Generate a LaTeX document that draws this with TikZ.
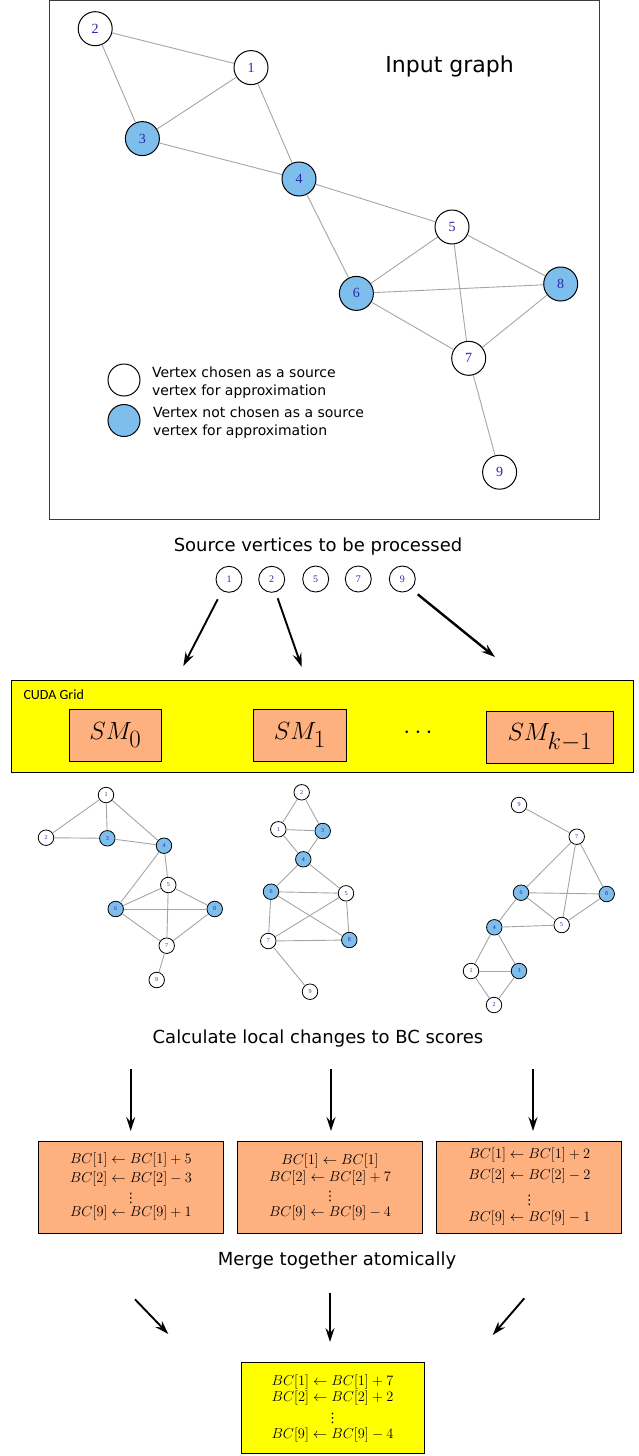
\documentclass[tikz,border=0pt]{standalone}
\usepackage[no-math]{fontspec}
\setmainfont{DejaVu Sans}
\newfontfamily\carlito{Carlito}
\newfontfamily\timesf{Liberation Serif}
\usetikzlibrary{arrows.meta}
\definecolor{nblue}{RGB}{125,190,236}
\definecolor{lblue}{RGB}{40,40,170}
\definecolor{salmon}{RGB}{255,176,127}
\definecolor{ylw}{RGB}{255,255,0}
\definecolor{edgegray}{RGB}{165,165,165}
\definecolor{framegray}{RGB}{60,60,60}
\tikzset{
 bigv/.style={circle,draw=black,line width=1pt,fill=white,minimum size=34pt,inner sep=0pt,text=lblue,font=\timesf\fontsize{14}{14}\selectfont},
 bigb/.style={bigv,fill=nblue},
 legv/.style={bigv,minimum size=32pt},
 legb/.style={legv,fill=nblue},
 midv/.style={circle,draw=black,line width=0.9pt,fill=white,minimum size=26pt,inner sep=0pt,text=lblue,font=\timesf\fontsize{10}{10}\selectfont},
 smv/.style={circle,draw=black,line width=0.8pt,fill=white,minimum size=15.5pt,inner sep=0pt,text=lblue,font=\timesf\fontsize{6}{6}\selectfont},
 smb/.style={smv,fill=nblue},
 gedge/.style={draw=edgegray,line width=0.9pt},
 arr/.style={-{Stealth[length=14pt,width=9pt,inset=5pt]},line width=1.9pt},
 lbl/.style={font=\fontsize{18}{21}\selectfont},
 legtxt/.style={anchor=west,align=left,font=\fontsize{14}{17.5}\selectfont},
 smbox/.style={draw=black,line width=0.9pt,fill=salmon,minimum height=52pt,inner sep=0pt,font=\fontsize{36}{36}\selectfont},
 bcbox/.style={draw=black,line width=1pt,fill=salmon,minimum width=185pt,minimum height=92pt,inner sep=0pt},
 bcl/.style={anchor=base,inner sep=0pt,font=\fontsize{14}{14}\selectfont},
 bcd/.style={anchor=center,inner sep=0pt,font=\fontsize{13}{13}\selectfont},
}
\begin{document}
\begin{tikzpicture}[x=1pt,y=-1pt]
\useasboundingbox (0,0) rectangle (638,1456);
% ---------- input graph frame
\draw[framegray,line width=1.3pt] (49.5,0.8) rectangle (599.5,519.5);
\node[font=\fontsize{22}{22}\selectfont] (title) at (449.6,66) {Input graph};
% top graph
\node[bigv] (t1) at (251,67.6) {1};
\node[bigv] (t2) at (95.2,28.7) {2};
\node[bigb] (t3) at (142.4,138.6) {3};
\node[bigb] (t4) at (299,179) {4};
\node[bigv] (t5) at (452,227) {5};
\node[bigb] (t6) at (356.4,293.4) {6};
\node[bigv] (t7) at (468.7,358.3) {7};
\node[bigb] (t8) at (560.7,284) {8};
\node[bigv] (t9) at (499.6,472.2) {9};
% legend
\node[legv] (leg1) at (124,380) {};
\node[legb] (leg2) at (124,420.5) {};
\node[legtxt] (legt1) at (148.5,382.5) {Vertex chosen as a source\\vertex for approximation};
\node[legtxt] (legt2) at (149.5,422.8) {Vertex not chosen as a source\\vertex for approximation};
% ---------- source vertices
\node[lbl] (srct) at (318,547) {Source vertices to be processed};
\node[midv] (s1) at (229,579.3) {1};
\node[midv] (s2) at (271.7,579.3) {2};
\node[midv] (s5) at (315.7,579) {5};
\node[midv] (s7) at (358.3,579) {7};
\node[midv] (s9) at (402.3,579) {9};
\coordinate (p1a) at (217.7,599.3); \coordinate (p1b) at (183.3,666);
\coordinate (p2a) at (277.7,598.3); \coordinate (p2b) at (301.7,667);
\coordinate (p3a) at (417.7,594.3); \coordinate (p3b) at (495,657);
\draw[arr] (p1a) -- (p1b);
\draw[arr] (p2a) -- (p2b);
\draw[arr,line width=2.4pt] (p3a) -- (p3b);
% ---------- CUDA grid
\node[draw=black,line width=0.9pt,fill=ylw,minimum width=622pt,minimum height=92pt,inner sep=0pt] (grid) at (322,726) {};
\node[anchor=west,font=\carlito\fontsize{14}{14}\selectfont] (gridt) at (20,695) {CUDA Grid};
\node[smbox,minimum width=92.3pt] (sm0) at (115.4,735) {$SM_0$};
\node[smbox,minimum width=92.7pt] (sm1) at (299.9,735) {$SM_1$};
\node[smbox,minimum width=127.3pt] (smk) at (549.9,737.5) {$SM_{k-1}$};
\node[font=\fontsize{32}{32}\selectfont] (dots) at (418,733) {$\cdots$};
% ---------- three local graphs
\node[smv] (a1) at (106,795) {1};
\node[smv] (a2) at (46,837.7) {2};
\node[smb] (a3) at (107.3,838.3) {3};
\node[smb] (a4) at (164,845.7) {4};
\node[smv] (a5) at (168.3,885) {5};
\node[smb] (a6) at (115.7,909) {6};
\node[smv] (a7) at (166.7,945.7) {7};
\node[smb] (a8) at (214.7,909) {8};
\node[smv] (a9) at (156.7,980) {9};
\node[smv] (b1) at (278.3,829.3) {1};
\node[smv] (b2) at (301.7,792.3) {2};
\node[smb] (b3) at (322.7,831) {3};
\node[smb] (b4) at (303.3,859.3) {4};
\node[smv] (b5) at (346,893.3) {5};
\node[smb] (b6) at (271,891.7) {6};
\node[smv] (b7) at (268.3,941) {7};
\node[smb] (b8) at (349.3,940) {8};
\node[smv] (b9) at (310,991.7) {9};
\node[smv] (c1) at (471,971) {1};
\node[smv] (c2) at (494,1005) {2};
\node[smb] (c3) at (519,971) {3};
\node[smb] (c4) at (494.3,927.3) {4};
\node[smv] (c5) at (561.7,925) {5};
\node[smb] (c6) at (521,892.7) {6};
\node[smv] (c7) at (576.7,836.7) {7};
\node[smb] (c8) at (606.7,894) {8};
\node[smv] (c9) at (519,805) {9};
\foreach \g in {t,a,b,c}{
  \foreach \u/\v in {1/2,2/3,1/3,1/4,3/4,4/5,4/6,5/6,5/8,5/7,6/8,6/7,8/7,7/9}{
    \draw[gedge] (\g\u) -- (\g\v);
  }
}
% ---------- local changes
\node[lbl] (calct) at (318,1039) {Calculate local changes to BC scores};
\coordinate (d1a) at (130.7,1069); \coordinate (d1b) at (130.7,1131);
\coordinate (d2a) at (331,1069); \coordinate (d2b) at (331,1131);
\coordinate (d3a) at (533,1069); \coordinate (d3b) at (533,1131);
\draw[arr] (d1a) -- (d1b);
\draw[arr] (d2a) -- (d2b);
\draw[arr] (d3a) -- (d3b);
\node[bcbox] (bc1) at (130.9,1187) {};
\node[bcl] (bc1l1) at (130.9,1163.5) {$BC[1]\leftarrow BC[1]+5$};
\node[bcl] (bc1l2) at (130.9,1182.8) {$BC[2]\leftarrow BC[2]-3$};
\node[bcd] (bc1d) at (130.9,1198) {⋮};
\node[bcl] (bc1l9) at (130.9,1216.8) {$BC[9]\leftarrow BC[9]+1$};
\node[bcbox,minimum width=184.5pt] (bc2) at (330,1187) {};
\node[bcl] (bc2l1) at (330,1164.2) {$BC[1]\leftarrow BC[1]$};
\node[bcl] (bc2l2) at (330,1181.2) {$BC[2]\leftarrow BC[2]+7$};
\node[bcd] (bc2d) at (330,1196.7) {⋮};
\node[bcl] (bc2l9) at (330,1216.8) {$BC[9]\leftarrow BC[9]-4$};
\node[bcbox] (bc3) at (529.4,1187) {};
\node[bcl] (bc3l1) at (529.4,1158.5) {$BC[1]\leftarrow BC[1]+2$};
\node[bcl] (bc3l2) at (529.4,1179.5) {$BC[2]\leftarrow BC[2]-2$};
\node[bcd] (bc3d) at (529.4,1200) {⋮};
\node[bcl] (bc3l9) at (529.4,1221.8) {$BC[9]\leftarrow BC[9]-1$};
% ---------- merge
\node[lbl] (merget) at (337,1261) {Merge together atomically};
\coordinate (m1a) at (135,1299.3); \coordinate (m1b) at (168.3,1334);
\coordinate (m2a) at (330,1293.3); \coordinate (m2b) at (330,1342);
\coordinate (m3a) at (524.3,1298.3); \coordinate (m3b) at (492.7,1335);
\draw[arr] (m1a) -- (m1b);
\draw[arr] (m2a) -- (m2b);
\draw[arr] (m3a) -- (m3b);
\node[bcbox,fill=ylw,minimum width=183pt,minimum height=91pt] (fin) at (332.5,1407.5) {};
\node[bcl,font=\fontsize{13.5}{13.5}\selectfont] (finl1) at (332.5,1385.8) {$BC[1]\leftarrow BC[1]+7$};
\node[bcl,font=\fontsize{13.5}{13.5}\selectfont] (finl2) at (332.5,1401.8) {$BC[2]\leftarrow BC[2]+2$};
\node[bcd] (find) at (332.5,1418) {⋮};
\node[bcl,font=\fontsize{13.5}{13.5}\selectfont] (finl9) at (332.5,1438.5) {$BC[9]\leftarrow BC[9]-4$};
\end{tikzpicture}
\end{document}
